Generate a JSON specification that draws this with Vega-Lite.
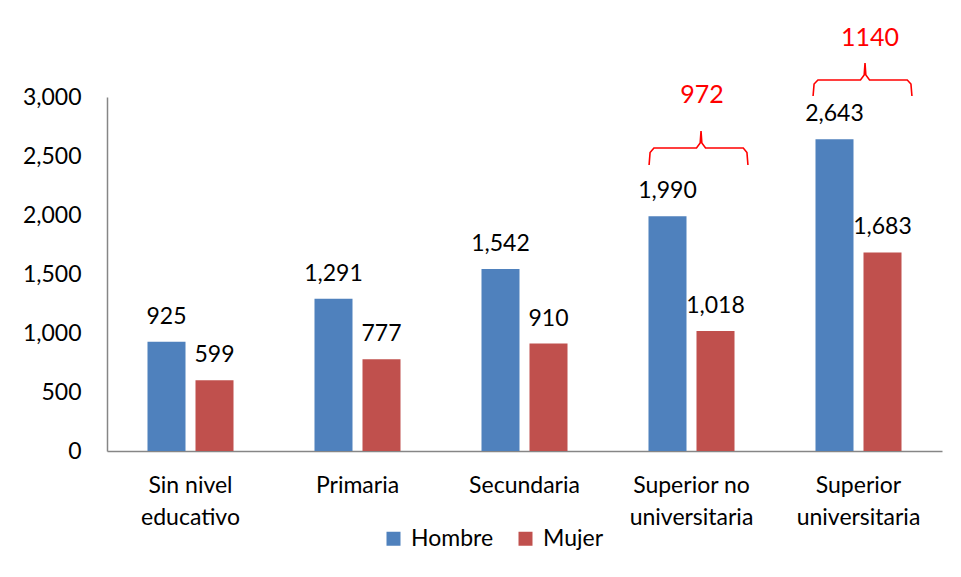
{
  "$schema": "https://vega.github.io/schema/vega-lite/v6.json",
  "width": 835,
  "height": 354,
  "autosize": {"type": "none"},
  "padding": {"left": 107, "top": 97, "right": 19, "bottom": 126},
  "background": "white",
  "config": {
    "view": {"stroke": null},
    "font": "Lato",
    "text": {"font": "Lato"},
    "axisY": {
      "title": null, "ticks": false, "tickSize": 0, "grid": false,
      "values": [0, 500, 1000, 1500, 2000, 2500, 3000],
      "labelExpr": "format(datum.value, ',')",
      "domainColor": "#868686", "domainWidth": 1.5,
      "labelFont": "Lato", "labelFontSize": 23, "labelColor": "#000000",
      "labelPadding": 26
    }
  },
  "datasets": {
    "bars": [
      {"nivel": "Sin nivel educativo", "sexo": "Hombre", "valor": 925},
      {"nivel": "Sin nivel educativo", "sexo": "Mujer", "valor": 599},
      {"nivel": "Primaria", "sexo": "Hombre", "valor": 1291},
      {"nivel": "Primaria", "sexo": "Mujer", "valor": 777},
      {"nivel": "Secundaria", "sexo": "Hombre", "valor": 1542},
      {"nivel": "Secundaria", "sexo": "Mujer", "valor": 910},
      {"nivel": "Superior no universitaria", "sexo": "Hombre", "valor": 1990},
      {"nivel": "Superior no universitaria", "sexo": "Mujer", "valor": 1018},
      {"nivel": "Superior universitaria", "sexo": "Hombre", "valor": 2643},
      {"nivel": "Superior universitaria", "sexo": "Mujer", "valor": 1683}
    ],
    "brace": [
      {"b": 1, "i": 1, "x": 3.246, "y": 2424},
      {"b": 1, "i": 2, "x": 3.252, "y": 2530},
      {"b": 1, "i": 3, "x": 3.275, "y": 2568},
      {"b": 1, "i": 4, "x": 3.530, "y": 2568},
      {"b": 1, "i": 5, "x": 3.552, "y": 2610},
      {"b": 1, "i": 6, "x": 3.557, "y": 2712},
      {"b": 1, "i": 7, "x": 3.562, "y": 2610},
      {"b": 1, "i": 8, "x": 3.584, "y": 2568},
      {"b": 1, "i": 9, "x": 3.810, "y": 2568},
      {"b": 1, "i": 10, "x": 3.832, "y": 2530},
      {"b": 1, "i": 11, "x": 3.838, "y": 2424},
      {"b": 2, "i": 1, "x": 4.228, "y": 3008},
      {"b": 2, "i": 2, "x": 4.234, "y": 3110},
      {"b": 2, "i": 3, "x": 4.257, "y": 3144},
      {"b": 2, "i": 4, "x": 4.512, "y": 3144},
      {"b": 2, "i": 5, "x": 4.534, "y": 3186},
      {"b": 2, "i": 6, "x": 4.539, "y": 3288},
      {"b": 2, "i": 7, "x": 4.544, "y": 3186},
      {"b": 2, "i": 8, "x": 4.566, "y": 3144},
      {"b": 2, "i": 9, "x": 4.792, "y": 3144},
      {"b": 2, "i": 10, "x": 4.814, "y": 3110},
      {"b": 2, "i": 11, "x": 4.820, "y": 3008}
    ],
    "notes": [
      {"x": 3.563, "y": 3017, "t": "972"},
      {"x": 4.569, "y": 3500, "t": "1140"}
    ]
  },
  "layer": [
    {
      "data": {"name": "bars"},
      "encoding": {
        "x": {
          "field": "nivel", "type": "nominal", "sort": null,
          "scale": {"paddingInner": 0, "paddingOuter": 0},
          "axis": {
            "title": null, "ticks": false, "tickSize": 0, "labelAngle": 0,
            "domainColor": "#868686", "domainWidth": 1.5,
            "labelFont": "Lato", "labelFontSize": 23, "labelColor": "#000000",
            "labelPadding": 23, "labelLineHeight": 32, "labelLimit": 0,
            "labelExpr": "datum.value == 'Sin nivel educativo' ? ['Sin nivel', 'educativo'] : datum.value == 'Superior no universitaria' ? ['Superior no', 'universitaria'] : datum.value == 'Superior universitaria' ? ['Superior', 'universitaria'] : datum.value"
          }
        },
        "xOffset": {
          "field": "sexo", "type": "nominal",
          "scale": {"paddingInner": 0.208, "paddingOuter": 0.8435}
        },
        "y": {
          "field": "valor", "type": "quantitative",
          "scale": {"domain": [0, 3000], "nice": false, "zero": true},
          "title": null
        }
      },
      "layer": [
        {
          "mark": {"type": "bar"},
          "encoding": {
            "color": {
              "field": "sexo", "type": "nominal",
              "scale": {"domain": ["Hombre", "Mujer"], "range": ["#4F81BD", "#C0504D"]},
              "legend": {
                "title": null, "orient": "none", "legendX": 275, "legendY": 430,
                "direction": "horizontal", "symbolType": "square", "symbolSize": 196,
                "symbolStrokeWidth": 0, "labelFont": "Lato", "labelFontSize": 23,
                "labelColor": "#000000", "labelOffset": 6, "columnPadding": 20
              }
            }
          }
        },
        {
          "mark": {"type": "text", "baseline": "alphabetic", "dy": -18, "fontSize": 23, "color": "#000000"},
          "encoding": {
            "text": {"field": "valor", "type": "quantitative", "format": ","}
          }
        }
      ]
    },
    {
      "data": {"name": "brace"},
      "mark": {"type": "line", "color": "#FF0000", "strokeWidth": 1.6, "interpolate": "linear"},
      "encoding": {
        "x": {"field": "x", "type": "quantitative", "scale": {"domain": [0, 5], "nice": false, "zero": false}, "axis": null},
        "y": {"field": "y", "type": "quantitative", "scale": {"domain": [0, 3000], "nice": false, "zero": true}, "title": null},
        "detail": {"field": "b", "type": "nominal"},
        "order": {"field": "i", "type": "quantitative"}
      }
    },
    {
      "data": {"name": "notes"},
      "mark": {"type": "text", "baseline": "middle", "fontSize": 25, "color": "#FF0000"},
      "encoding": {
        "x": {"field": "x", "type": "quantitative", "scale": {"domain": [0, 5], "nice": false, "zero": false}, "axis": null},
        "y": {"field": "y", "type": "quantitative", "scale": {"domain": [0, 3000], "nice": false, "zero": true}, "title": null},
        "text": {"field": "t", "type": "nominal"}
      }
    }
  ],
  "resolve": {"scale": {"x": "independent"}}
}
